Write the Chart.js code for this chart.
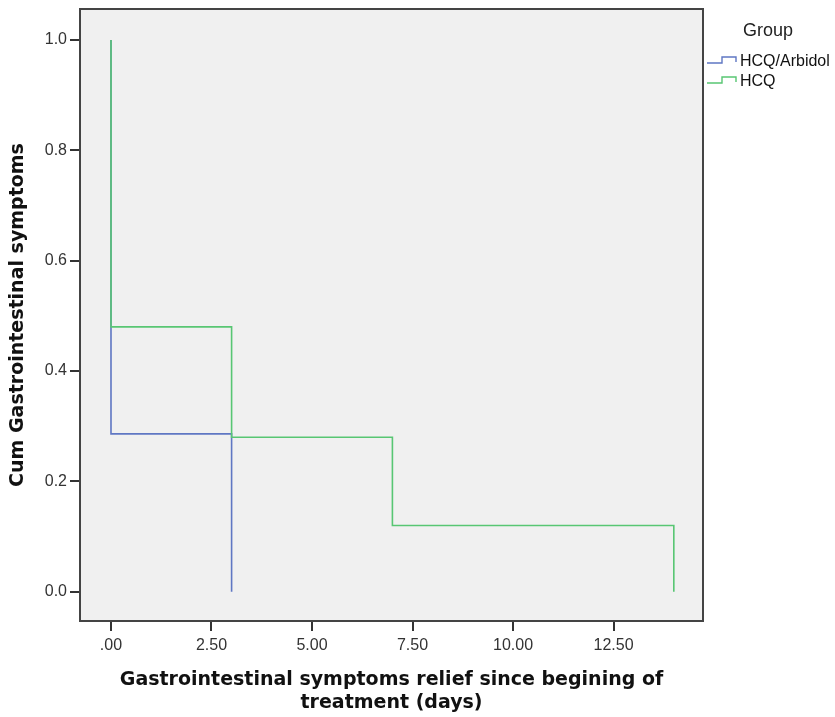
<!DOCTYPE html>
<html>
<head>
<meta charset="utf-8">
<script src="https://cdn.jsdelivr.net/npm/chart.js@4.4.1/dist/chart.umd.min.js"></script>
<style>
html,body{margin:0;padding:0;background:#fff;}
#wrap{width:835px;height:717px;position:relative;}
</style>
</head>
<body>
<div id="wrap"><canvas id="c" width="835" height="717"></canvas></div>
<script>
// Data
const groupNames = ['HCQ/Arbidol', 'HCQ'];
const arbidolX = [0, 0, 3];
const arbidolY = [1.0, 0.286, 0.0];
const hcqX = [0, 0, 3, 7, 14];
const hcqY = [1.0, 0.48, 0.28, 0.12, 0.0];
const xTicks = [0, 2.5, 5, 7.5, 10, 12.5];
const xTickLabels = ['.00', '2.50', '5.00', '7.50', '10.00', '12.50'];
const yTicks = [0, 0.2, 0.4, 0.6, 0.8, 1.0];
const yTickLabels = ['0.0', '0.2', '0.4', '0.6', '0.8', '1.0'];
const legendTitle = 'Group';
const xTitle = ['Gastrointestinal symptoms relief since begining of', 'treatment (days)'];
const yTitle = 'Cum Gastrointestinal symptoms';

const colors = ['#5f77c3', '#58c673'];
const toPts = (xs, ys) => xs.map((x, i) => ({x: x, y: ys[i]}));

const FONT = '"Liberation Sans", Arial, sans-serif';
const TFONT = '"DejaVu Sans", "Liberation Sans", Arial, sans-serif';

const plotBg = {
  id: 'plotBg',
  beforeDraw(chart) {
    const {ctx, chartArea: a} = chart;
    ctx.save();
    ctx.fillStyle = '#f0f0f0';
    ctx.fillRect(a.left, a.top, a.right - a.left, a.bottom - a.top);
    ctx.restore();
  },
  afterDraw(chart) {
    const {ctx, chartArea: a} = chart;
    ctx.save();
    ctx.strokeStyle = '#444';
    ctx.lineWidth = 2;
    ctx.strokeRect(a.left, a.top, a.right - a.left, a.bottom - a.top);
    // legend
    ctx.fillStyle = '#222';
    ctx.font = '18px ' + FONT;
    ctx.textAlign = 'center';
    ctx.textBaseline = 'middle';
    ctx.fillText(legendTitle, 768, 31);
    ctx.font = '16px ' + FONT;
    ctx.textAlign = 'left';
    const rows = [62, 82];
    groupNames.forEach((n, i) => {
      const y = rows[i];
      ctx.strokeStyle = colors[i];
      ctx.lineWidth = 1.4;
      ctx.beginPath();
      ctx.moveTo(707, y + 1);
      ctx.lineTo(722, y + 1);
      ctx.lineTo(722, y - 5);
      ctx.lineTo(736, y - 5);
      ctx.lineTo(736, y);
      ctx.stroke();
      ctx.fillStyle = '#111';
      ctx.fillText(n, 740, y);
    });
    ctx.restore();
  }
};

new Chart(document.getElementById('c'), {
  type: 'line',
  data: {
    datasets: [
      {label: groupNames[0], data: toPts(arbidolX, arbidolY), borderColor: colors[0], borderWidth: 1.6, stepped: 'before', pointRadius: 0, fill: false, order: 2},
      {label: groupNames[1], data: toPts(hcqX, hcqY), borderColor: colors[1], borderWidth: 1.6, stepped: 'before', pointRadius: 0, fill: false, order: 1}
    ]
  },
  options: {
    responsive: false,
    animation: false,
    layout: {padding: {left: 0, top: 9, right: 132, bottom: 0}},
    plugins: {legend: {display: false}, tooltip: {enabled: false}},
    scales: {
      x: {
        type: 'linear',
        min: -0.771, max: 14.726,
        afterBuildTicks(s) { s.ticks = xTicks.map(v => ({value: v})); },
        afterFit(s) { s.height = 96; s.paddingLeft = 0; s.paddingRight = 0; },
        ticks: {
          callback: (v) => xTickLabels[xTicks.indexOf(v)],
          color: '#333', font: {family: FONT, size: 16}, maxRotation: 0, padding: 5
        },
        grid: {drawOnChartArea: false, drawTicks: true, tickLength: 10, tickColor: '#333', tickWidth: 2, color: '#333', lineWidth: 2},
        border: {display: true, color: '#444', width: 2},
        title: {display: true, text: xTitle, color: '#111', font: {family: TFONT, size: 19, weight: 'bold', lineHeight: 1.2}, padding: {top: 4, bottom: 3}}
      },
      y: {
        type: 'linear',
        min: -0.053, max: 1.056,
        afterBuildTicks(s) { s.ticks = yTicks.map(v => ({value: v})); },
        afterFit(s) { s.width = 80; s.paddingTop = 0; s.paddingBottom = 0; },
        ticks: {
          callback: (v) => yTickLabels[yTicks.findIndex(t => Math.abs(t - v) < 1e-9)],
          color: '#333', font: {family: FONT, size: 16}, padding: 3
        },
        grid: {drawOnChartArea: false, drawTicks: true, tickLength: 10, tickColor: '#333', tickWidth: 2, color: '#333', lineWidth: 2},
        border: {display: true, color: '#444', width: 2},
        title: {display: true, text: yTitle, color: '#111', font: {family: TFONT, size: 19, weight: 'bold', lineHeight: 1.16}, padding: {top: 7, bottom: 4}}
      }
    }
  },
  plugins: [plotBg]
});
</script>
</body>
</html>
